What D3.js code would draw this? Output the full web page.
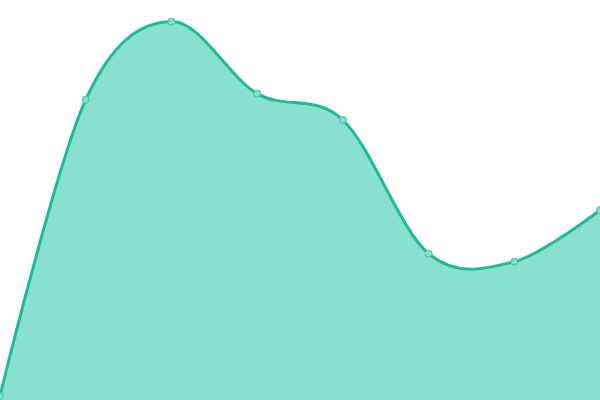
<!DOCTYPE html>
<html lang="en">
<head>
    <meta charset="UTF-8">
    <script src="https://d3js.org/d3.v7.min.js"></script>
    <style>
        body { margin: 0; background: #fff; }
    </style>
</head>
<body>
    <svg width="600" height="400" id="mainsvg"></svg>
    <script>
        const categories = ['A', 'B', 'C', 'D', 'E', 'F', 'G', 'H'];
        const values = [1, 75.1, 94.6, 76.6, 70, 36.6, 34.6, 47.5];

        const svg = d3.select('#mainsvg');
        const width = +svg.attr('width');
        const height = +svg.attr('height');

        const data = categories.map((c, i) => ({ name: c, value: values[i] }));

        const xScale = d3.scalePoint()
            .domain(categories)
            .range([0, width]);

        const yScale = d3.scaleLinear()
            .domain([0, 100])
            .range([height, 0]);

        // smooth curve through every point
        const curve = d3.curveCatmullRom.alpha(0);

        const area = d3.area()
            .x(d => xScale(d.name))
            .y0(height)
            .y1(d => yScale(d.value))
            .curve(curve);

        const line = d3.line()
            .x(d => xScale(d.name))
            .y(d => yScale(d.value))
            .curve(curve);

        svg.append('path').datum(data)
            .attr('d', area)
            .attr('fill', '#8ae0cf');

        svg.append('path').datum(data)
            .attr('d', line)
            .attr('fill', 'none')
            .attr('stroke', '#1fbb99')
            .attr('stroke-width', 3);

        svg.selectAll('.dot').data(data).enter().append('circle')
            .attr('class', 'dot')
            .attr('cx', d => xScale(d.name))
            .attr('cy', d => yScale(d.value))
            .attr('r', 3.5)
            .attr('fill', '#82dec9')
            .attr('stroke', '#3cc6a8')
            .attr('stroke-width', 1);
    </script>
</body>
</html>
